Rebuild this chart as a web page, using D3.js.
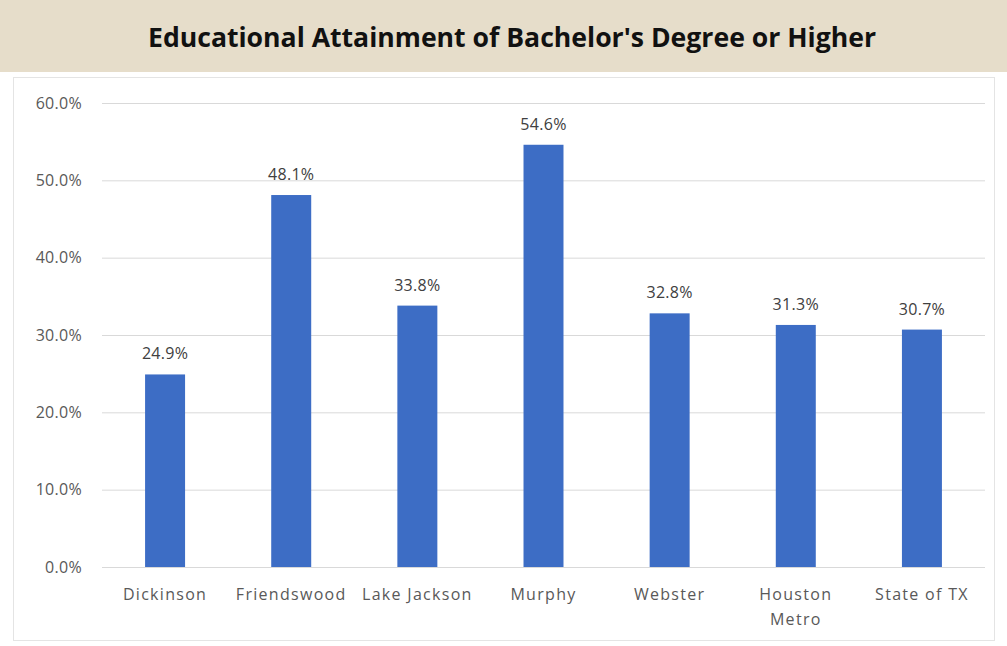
<!DOCTYPE html>
<html>
<head>
<meta charset="utf-8">
<script src="https://cdn.jsdelivr.net/npm/d3@7"></script>
<style>
  body { margin: 0; background: #fff; }
  svg { display: block; }
</style>
</head>
<body>
<div id="chart"></div>
<script>
const categories = ['Dickinson', 'Friendswood', 'Lake Jackson', 'Murphy', 'Webster', 'Houston Metro', 'State of TX'];
const values = [24.9, 48.1, 33.8, 54.6, 32.8, 31.3, 30.7];
const yTicks = [0, 10, 20, 30, 40, 50, 60];
const title = "Educational Attainment of Bachelor's Degree or Higher";

const width = 1007, height = 646;
const margin = { top: 103, right: 22, bottom: 79, left: 102 };

const svg = d3.select('#chart').append('svg')
  .attr('width', width)
  .attr('height', height);

// title band
svg.append('rect')
  .attr('x', 0).attr('y', 0)
  .attr('width', width).attr('height', 72)
  .attr('fill', '#e6ddca');

svg.append('text')
  .attr('x', 512).attr('y', 47)
  .attr('text-anchor', 'middle')
  .style('font-family', '"Open Sans", sans-serif')
  .style('font-weight', 'bold')
  .style('font-size', '26px')
  .attr('textLength', 728)
  .attr('lengthAdjust', 'spacingAndGlyphs')
  .attr('fill', '#111')
  .text(title);

// chart frame
svg.append('rect')
  .attr('x', 13.5).attr('y', 77.5)
  .attr('width', 981).attr('height', 563)
  .attr('fill', 'none')
  .attr('stroke', '#e4e4e4');

const innerW = width - margin.left - margin.right;
const innerH = height - margin.top - margin.bottom;

const g = svg.append('g')
  .attr('transform', `translate(${margin.left},${margin.top})`);

const x = d3.scaleBand()
  .domain(categories)
  .range([0, innerW])
  .paddingInner(0.683)
  .paddingOuter(0.3415);

const y = d3.scaleLinear()
  .domain([0, 60])
  .range([innerH, 0]);

const labelFont = '"Open Sans", sans-serif';

// gridlines + y labels
const yAxis = g.append('g')
  .call(d3.axisLeft(y)
    .tickValues(yTicks)
    .tickSize(-innerW)
    .tickPadding(20)
    .tickFormat(d => d.toFixed(1) + '%'));
yAxis.select('.domain').remove();
yAxis.selectAll('line').attr('stroke', '#d9d9d9').attr('stroke-width', 1);
yAxis.selectAll('text')
  .attr('fill', '#595959')
  .style('font-family', labelFont)
  .style('font-size', '16px')
  .style('letter-spacing', '0.3px');

// bars
g.selectAll('.bar')
  .data(values)
  .enter().append('rect')
  .attr('class', 'bar')
  .attr('x', (d, i) => x(categories[i]))
  .attr('y', d => y(d))
  .attr('width', x.bandwidth())
  .attr('height', d => innerH - y(d))
  .attr('fill', '#3d6dc5');

// value labels
g.selectAll('.lbl')
  .data(values)
  .enter().append('text')
  .attr('class', 'lbl')
  .attr('x', (d, i) => x(categories[i]) + x.bandwidth() / 2)
  .attr('y', d => y(d) - 15)
  .attr('text-anchor', 'middle')
  .attr('fill', '#404040')
  .style('font-family', labelFont)
  .style('font-size', '16px')
  .style('letter-spacing', '0.3px')
  .text(d => d.toFixed(1) + '%');

// x axis
const xAxis = g.append('g')
  .attr('transform', `translate(0,${innerH})`)
  .call(d3.axisBottom(x).tickSize(0).tickPadding(22));
xAxis.select('.domain').remove();
xAxis.selectAll('text')
  .attr('fill', '#595959')
  .style('font-family', labelFont)
  .style('font-size', '16px')
  .style('letter-spacing', '1.3px')
  .each(function(d) {
    const t = d3.select(this);
    if (d === 'Houston Metro') {
      t.text(null);
      t.append('tspan').attr('x', 0).attr('dy', '0.71em').text('Houston');
      t.append('tspan').attr('x', 0).attr('dy', '1.55em').text('Metro');
      t.attr('dy', null);
    }
  });
</script>
</body>
</html>
